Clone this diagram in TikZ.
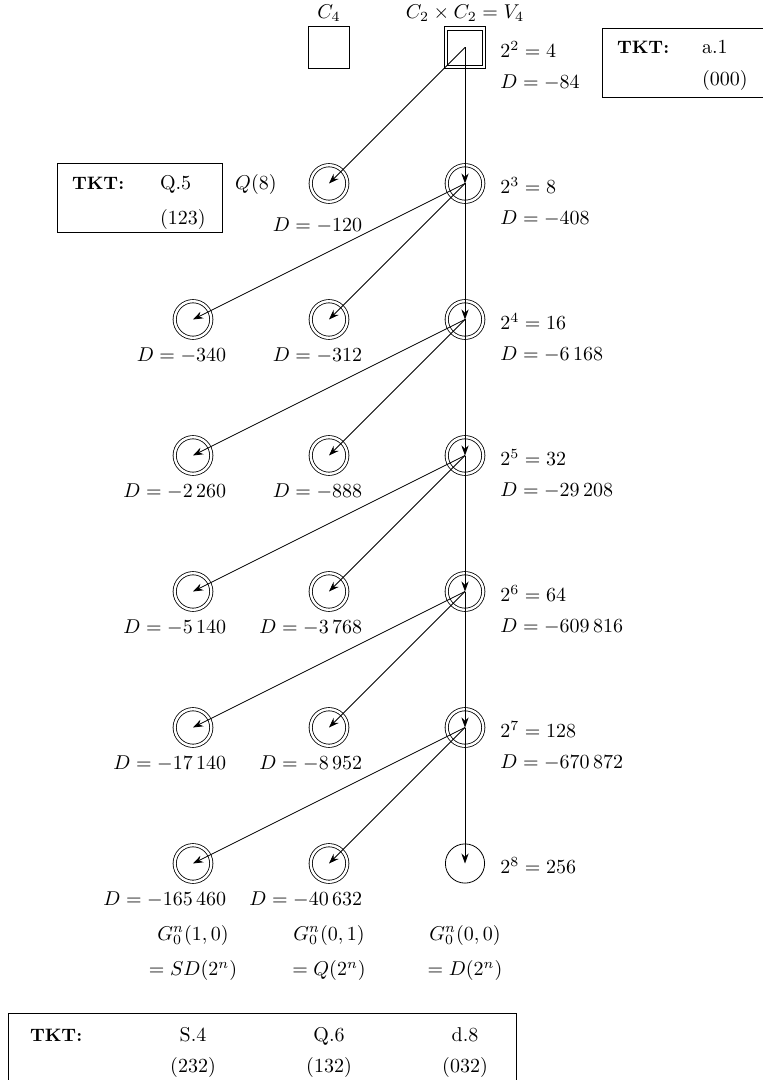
\documentclass[tikz,border=0pt]{standalone}
\usepackage{amsmath}
\usetikzlibrary{arrows.meta,positioning}

\begin{document}
\begin{tikzpicture}[on grid, node distance=68pt,
  sqr/.style={draw, minimum size=20.6pt, inner sep=0pt},
  dcirc/.style={draw, circle, double, double distance=1.2pt, minimum size=18.3pt, inner sep=0pt},
  pcirc/.style={draw, circle, minimum size=19.6pt, inner sep=0pt},
  lbl/.style={inner sep=0pt},
  tkt/.style={draw, inner sep=0pt},
  tkthead/.style={inner sep=0pt, font=\small\bfseries},
  arr/.style={-{Stealth[length=5pt, width=3.6pt]}}]
\useasboundingbox (0,0) rectangle (381.5pt,-540pt);

% groups of order 4
\node[sqr] (c4) at (164.5pt,-23.75pt) {};
\node[sqr, right=of c4] (v4) {};
\draw ([shift={(1.75pt,1.75pt)}]v4.south west) rectangle ([shift={(-1.75pt,-1.75pt)}]v4.north east);
\node[lbl, anchor=base] (c4t) at ([yshift=14.5pt]c4.center) {$C_4$};
\node[lbl, anchor=base] (v4t) at ([yshift=14.5pt]v4.center) {$C_2 \times C_2 = V_4$};
\node[lbl, anchor=base west] (v4a) at ([shift={(17.5pt,-5pt)}]v4.center) {$2^2 = 4$};
\node[lbl, anchor=base west] (v4b) at ([shift={(17.5pt,-20.5pt)}]v4.center) {$D = -84$};

% order 8
\node[dcirc, below=of v4] (d3) {};
\node[dcirc, left=of d3] (q3) {};
\node[lbl, anchor=base east] (q3a) at ([shift={(-26pt,-3pt)}]q3.center) {$Q(8)$};
\node[lbl, anchor=base east] (q3b) at ([shift={(16.75pt,-24.25pt)}]q3.center) {$D = -120$};
\node[lbl, anchor=base west] (d3a) at ([shift={(17.5pt,-5pt)}]d3.center) {$2^3 = 8$};
\node[lbl, anchor=base west] (d3b) at ([shift={(17.5pt,-20.5pt)}]d3.center) {$D = -408$};

% order 16
\node[dcirc, below=of d3] (d4) {};
\node[dcirc, left=of d4] (q4) {};
\node[dcirc, left=of q4] (s4) {};
\node[lbl, anchor=base east] (s4b) at ([shift={(16.75pt,-20.75pt)}]s4.center) {$D = -340$};
\node[lbl, anchor=base east] (q4b) at ([shift={(16.75pt,-20.75pt)}]q4.center) {$D = -312$};
\node[lbl, anchor=base west] (d4a) at ([shift={(17.5pt,-5pt)}]d4.center) {$2^4 = 16$};
\node[lbl, anchor=base west] (d4b) at ([shift={(17.5pt,-20.5pt)}]d4.center) {$D = -6\,168$};

% order 32
\node[dcirc, below=of d4] (d5) {};
\node[dcirc, left=of d5] (q5) {};
\node[dcirc, left=of q5] (s5) {};
\node[lbl, anchor=base east] (s5b) at ([shift={(16.75pt,-20.75pt)}]s5.center) {$D = -2\,260$};
\node[lbl, anchor=base east] (q5b) at ([shift={(16.75pt,-20.75pt)}]q5.center) {$D = -888$};
\node[lbl, anchor=base west] (d5a) at ([shift={(17.5pt,-5pt)}]d5.center) {$2^5 = 32$};
\node[lbl, anchor=base west] (d5b) at ([shift={(17.5pt,-20.5pt)}]d5.center) {$D = -29\,208$};

% order 64
\node[dcirc, below=of d5] (d6) {};
\node[dcirc, left=of d6] (q6) {};
\node[dcirc, left=of q6] (s6) {};
\node[lbl, anchor=base east] (s6b) at ([shift={(16.75pt,-20.75pt)}]s6.center) {$D = -5\,140$};
\node[lbl, anchor=base east] (q6b) at ([shift={(16.75pt,-20.75pt)}]q6.center) {$D = -3\,768$};
\node[lbl, anchor=base west] (d6a) at ([shift={(17.5pt,-5pt)}]d6.center) {$2^6 = 64$};
\node[lbl, anchor=base west] (d6b) at ([shift={(17.5pt,-20.5pt)}]d6.center) {$D = -609\,816$};

% order 128
\node[dcirc, below=of d6] (d7) {};
\node[dcirc, left=of d7] (q7) {};
\node[dcirc, left=of q7] (s7) {};
\node[lbl, anchor=base east] (s7b) at ([shift={(16.75pt,-20.75pt)}]s7.center) {$D = -17\,140$};
\node[lbl, anchor=base east] (q7b) at ([shift={(16.75pt,-20.75pt)}]q7.center) {$D = -8\,952$};
\node[lbl, anchor=base west] (d7a) at ([shift={(17.5pt,-5pt)}]d7.center) {$2^7 = 128$};
\node[lbl, anchor=base west] (d7b) at ([shift={(17.5pt,-20.5pt)}]d7.center) {$D = -670\,872$};

% order 256
\node[pcirc, below=of d7] (d8) {};
\node[dcirc, left=of d8] (q8) {};
\node[dcirc, left=of q8] (s8) {};
\node[lbl, anchor=base east] (s8b) at ([shift={(16.75pt,-20.75pt)}]s8.center) {$D = -165\,460$};
\node[lbl, anchor=base east] (q8b) at ([shift={(16.75pt,-20.75pt)}]q8.center) {$D = -40\,632$};
\node[lbl, anchor=base west] (d8a) at ([shift={(17.5pt,-5pt)}]d8.center) {$2^8 = 256$};

% the three families
\node[lbl, anchor=base] (gs) at ([yshift=-38.25pt]s8.center) {$G_0^n(1,0)$};
\node[lbl, anchor=base] (gq) at ([yshift=-38.25pt]q8.center) {$G_0^n(0,1)$};
\node[lbl, anchor=base] (gd) at ([yshift=-38.25pt]d8.center) {$G_0^n(0,0)$};
\node[lbl, anchor=base] (gs2) at ([yshift=-56pt]s8.center) {$= SD(2^n)$};
\node[lbl, anchor=base] (gq2) at ([yshift=-56pt]q8.center) {$= Q(2^n)$};
\node[lbl, anchor=base] (gd2) at ([yshift=-56pt]d8.center) {$= D(2^n)$};

% TKT boxes
\node[tkt, minimum width=90pt, minimum height=34.5pt] (tkta) at (346pt,-31.25pt) {};
\node[tkthead, anchor=base west] (tkta1) at ([shift={(7.5pt,-12.75pt)}]tkta.north west) {TKT:};
\node[lbl, anchor=base west] (tkta2) at ([shift={(50pt,-12.75pt)}]tkta.north west) {a.1};
\node[lbl, anchor=base west] (tkta3) at ([shift={(50pt,-29pt)}]tkta.north west) {(000)};

\node[tkt, minimum width=82.5pt, minimum height=34.5pt] (tktq) at (69.75pt,-98.75pt) {};
\node[tkthead, anchor=base west] (tktq1) at ([shift={(7.5pt,-13.5pt)}]tktq.north west) {TKT:};
\node[lbl, anchor=base west] (tktq2) at ([shift={(51.5pt,-13.5pt)}]tktq.north west) {Q.5};
\node[lbl, anchor=base west] (tktq3) at ([shift={(51.5pt,-31pt)}]tktq.north west) {(123)};

\node[tkt, minimum width=254pt, minimum height=36pt] (tkts) at (131pt,-524.5pt) {};
\node[tkthead, anchor=base west] (tkts1) at ([shift={(11pt,-14.5pt)}]tkts.north west) {TKT:};
\node[lbl, anchor=base, yshift=-14.5pt] (tkts2) at (s8 |- tkts.north) {S.4};
\node[lbl, anchor=base, yshift=-14.5pt] (tkts3) at (q8 |- tkts.north) {Q.6};
\node[lbl, anchor=base, yshift=-14.5pt] (tkts4) at (d8 |- tkts.north) {d.8};
\node[lbl, anchor=base, yshift=-30pt] (tkts5) at (s8 |- tkts.north) {(232)};
\node[lbl, anchor=base, yshift=-30pt] (tkts6) at (q8 |- tkts.north) {(132)};
\node[lbl, anchor=base, yshift=-30pt] (tkts7) at (d8 |- tkts.north) {(032)};

% arrows
\draw[arr] (v4.center) -- (q3.center);
\draw[arr] (v4.center) -- (d3.center);
\draw[arr] (d3.center) -- (s4.center);
\draw[arr] (d3.center) -- (q4.center);
\draw[arr] (d3.center) -- (d4.center);
\draw[arr] (d4.center) -- (s5.center);
\draw[arr] (d4.center) -- (q5.center);
\draw[arr] (d4.center) -- (d5.center);
\draw[arr] (d5.center) -- (s6.center);
\draw[arr] (d5.center) -- (q6.center);
\draw[arr] (d5.center) -- (d6.center);
\draw[arr] (d6.center) -- (s7.center);
\draw[arr] (d6.center) -- (q7.center);
\draw[arr] (d6.center) -- (d7.center);
\draw[arr] (d7.center) -- (s8.center);
\draw[arr] (d7.center) -- (q8.center);
\draw[arr] (d7.center) -- (d8.center);
\end{tikzpicture}
\end{document}
